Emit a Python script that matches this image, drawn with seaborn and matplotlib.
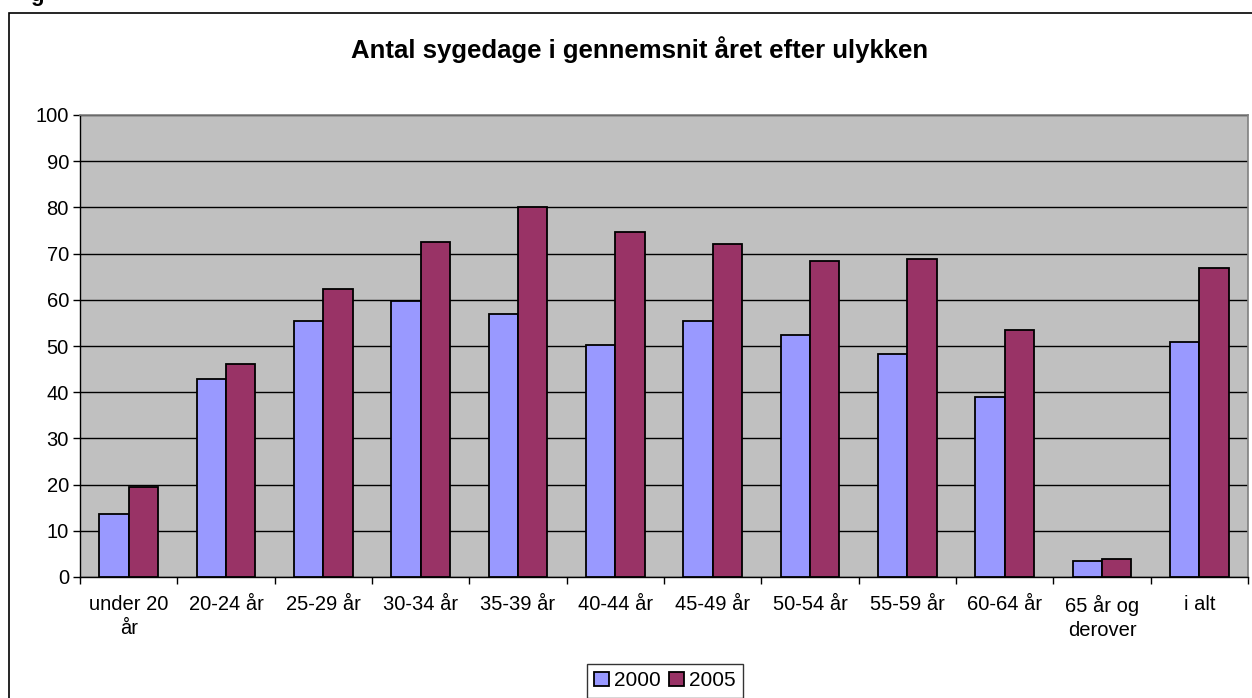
import numpy as np
import pandas as pd
import seaborn as sns
from matplotlib import pyplot as plt
from matplotlib.patches import Rectangle

categories = ["under 20\når", "20-24 år", "25-29 år", "30-34 år", "35-39 år",
              "40-44 år", "45-49 år", "50-54 år", "55-59 år", "60-64 år",
              "65 år og\nderover", "i alt"]
years = ["2000", "2005"]
values_2000 = [13.7, 42.9, 55.4, 59.8, 56.9, 50.2, 55.4, 52.4, 48.3, 39.0, 3.5, 50.9]
values_2005 = [19.5, 46.1, 62.3, 72.6, 80.1, 74.6, 72.1, 68.5, 68.8, 53.5, 3.8, 66.9]
colors = ["#9999FF", "#993366"]
title = "Antal sygedage i gennemsnit året efter ulykken"

df = pd.DataFrame({
    "kategori": categories * 2,
    "år": [years[0]] * len(categories) + [years[1]] * len(categories),
    "dage": values_2000 + values_2005,
})

sns.set_style("white")
plt.rcParams["font.family"] = ["Liberation Sans", "DejaVu Sans"]
plt.rcParams["text.color"] = "black"
plt.rcParams["xtick.color"] = "black"
plt.rcParams["ytick.color"] = "black"
plt.rcParams["xtick.labelcolor"] = "black"
plt.rcParams["ytick.labelcolor"] = "black"

fig = plt.figure(figsize=(12.52, 6.98), dpi=100)
ax = fig.add_axes([80 / 1252, 1 - 577 / 698, (1248 - 80) / 1252, (577 - 115) / 698])

# outer chart frame (cropped on right and bottom in the original)
fig.patches.append(Rectangle((9 / 1252, -0.05), 1.2, 1 - 13 / 698 + 0.05,
                             transform=fig.transFigure, fill=False,
                             edgecolor="black", linewidth=1.2, zorder=0))
fig.text(30 / 1252, 1 + 4 / 698, "g", fontsize=16, fontweight="bold",
         ha="left", va="center")

sns.barplot(data=df, x="kategori", y="dage", hue="år", palette=colors,
            width=0.6, edgecolor="black", linewidth=1.3, saturation=1,
            ax=ax, zorder=3)

ax.set_facecolor("#C0C0C0")
ax.set_ylim(0, 100)
ax.set_xlim(-0.5, len(categories) - 0.5)
ax.set_yticks(np.arange(0, 101, 10))
ax.yaxis.grid(True, color="black", linewidth=1)
ax.set_axisbelow(True)
ax.set_xlabel("")
ax.set_ylabel("")

for side in ["top", "right"]:
    ax.spines[side].set_color("#808080")
    ax.spines[side].set_linewidth(1.2)
for side in ["left", "bottom"]:
    ax.spines[side].set_color("black")
    ax.spines[side].set_linewidth(1)

ax.tick_params(axis="y", which="major", direction="out", length=5, width=1,
               left=True, labelsize=14.5, pad=3, color="black",
               labelcolor="black")
ax.tick_params(axis="x", which="major", length=0, labelsize=14.5, pad=13,
               labelcolor="black")
for lab in ax.get_xticklabels():
    lab.set_linespacing(1.35)
ax.set_xticks(np.arange(-0.5, len(categories)), minor=True)
ax.tick_params(axis="x", which="minor", direction="out", length=5, width=1,
               bottom=True, color="black")

fig.text(0.511, 1 - 50 / 698, title, fontsize=18.5, fontweight="bold",
         ha="center", va="center", color="black")

handles, labels = ax.get_legend_handles_labels()
ax.legend_.remove()
leg = fig.legend(handles, labels, loc="upper left",
                 bbox_to_anchor=(587 / 1252, 1 - 664 / 698), ncol=2,
                 frameon=True, fancybox=False, edgecolor="black", fontsize=15,
                 handlelength=0.7, handleheight=0.7, handletextpad=0.25,
                 columnspacing=0.4, borderpad=0.35, borderaxespad=0)
for t in leg.get_texts():
    t.set_color("black")

fig.savefig("out.png", dpi=100)
